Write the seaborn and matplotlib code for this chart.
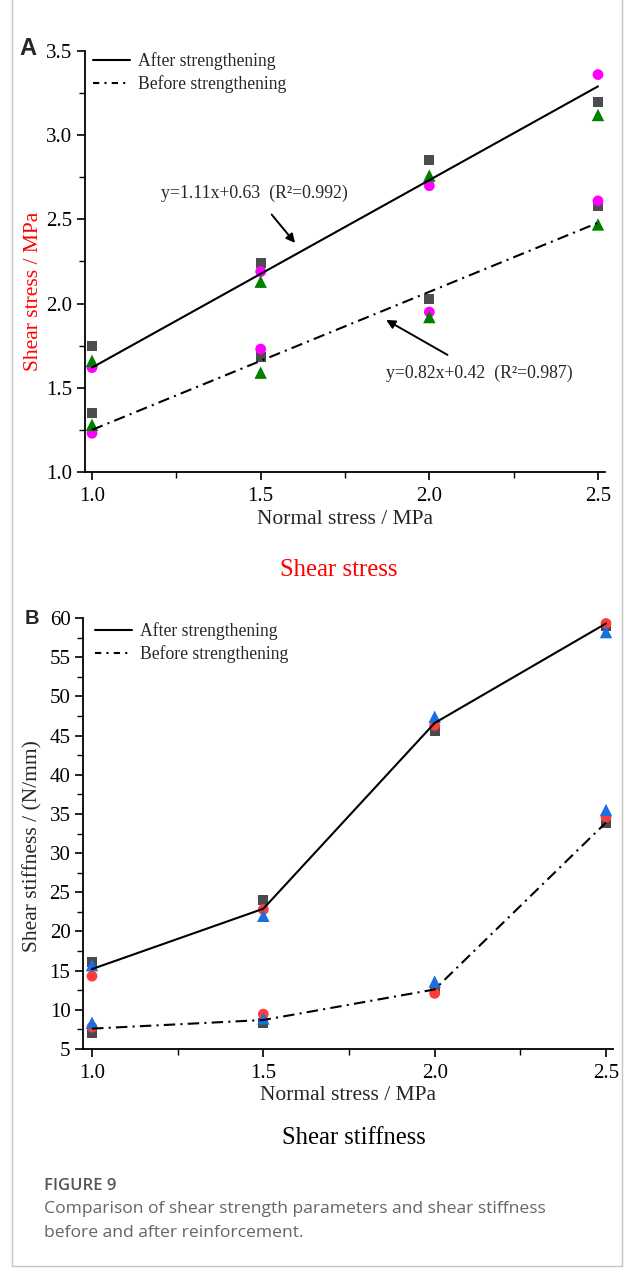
import matplotlib
matplotlib.use("Agg")
import matplotlib.pyplot as plt
import seaborn as sns
from matplotlib.lines import Line2D
from matplotlib.ticker import MultipleLocator, FormatStrFormatter

# ---------------- data ----------------
normal_stress = [1.0, 1.5, 2.0, 2.5]

# Panel A: shear stress (MPa)
a_after_square = [1.75, 2.24, 2.85, 3.20]
a_after_circle = [1.62, 2.19, 2.70, 3.36]
a_after_triangle = [1.66, 2.13, 2.76, 3.12]
a_before_square = [1.35, 1.68, 2.03, 2.58]
a_before_circle = [1.23, 1.73, 1.95, 2.61]
a_before_triangle = [1.28, 1.59, 1.92, 2.47]
fit_x = [1.0, 2.5]
a_after_fit = [1.62, 3.29]
a_before_fit = [1.25, 2.48]
eq_after = "y=1.11x+0.63  (R²=0.992)"
eq_before = "y=0.82x+0.42  (R²=0.987)"

# Panel B: shear stiffness (N/mm)
b_after_square = [16.1, 24.0, 45.6, 59.0]
b_after_circle = [14.3, 22.8, 46.3, 59.3]
b_after_triangle = [15.7, 22.0, 47.4, 58.2]
b_after_line = [15.2, 22.9, 46.6, 59.3]
b_before_square = [7.0, 8.3, 12.5, 33.8]
b_before_circle = [7.8, 9.45, 12.1, 34.6]
b_before_triangle = [8.35, 8.9, 13.6, 35.5]
b_before_line = [7.6, 8.7, 12.6, 33.9]

legend_labels = ["After strengthening", "Before strengthening"]

# ---------------- style ----------------
sns.set_theme(style="ticks")
plt.rcParams["font.family"] = ["Liberation Serif", "DejaVu Serif"]
plt.rcParams["axes.linewidth"] = 1.3
plt.rcParams["xtick.major.width"] = 1.2
plt.rcParams["ytick.major.width"] = 1.2
plt.rcParams["xtick.minor.width"] = 1.0
plt.rcParams["ytick.minor.width"] = 1.0

W, H = 626, 1272
fig = plt.figure(figsize=(W / 100, H / 100), dpi=100)

def fig_box(l, t, r, b):
    return [l / W, 1 - b / H, (r - l) / W, (b - t) / H]

DASHDOT = (0, (5.5, 2.5, 1.0, 2.5))
LW = 1.5

axA = fig.add_axes(fig_box(85, 51, 605, 472))
axB = fig.add_axes(fig_box(83, 618, 613, 1049))

def draw_points(ax, sq, ci, tr, c_sq, c_ci, c_tr):
    sns.scatterplot(x=normal_stress, y=sq, ax=ax, marker="s", s=52, color=c_sq,
                    edgecolor="none", linewidth=0, zorder=3, legend=False)
    sns.scatterplot(x=normal_stress, y=ci, ax=ax, marker="o", s=60, color=c_ci,
                    edgecolor="none", linewidth=0, zorder=3, legend=False)
    sns.scatterplot(x=normal_stress, y=tr, ax=ax, marker="^", s=80, color=c_tr,
                    edgecolor="none", linewidth=0, zorder=3, legend=False)

# ---------------- Panel A ----------------
draw_points(axA, a_after_square, a_after_circle, a_after_triangle, "#4d4d4d", "#ff00ff", "#008000")
draw_points(axA, a_before_square, a_before_circle, a_before_triangle, "#4d4d4d", "#ff00ff", "#008000")
sns.lineplot(x=fit_x, y=a_after_fit, ax=axA, color="black", lw=LW, zorder=4)
sns.lineplot(x=fit_x, y=a_before_fit, ax=axA, color="black", lw=LW, zorder=4,
             linestyle=DASHDOT)

axA.set_xlim(1 - 7 / 337, 2.5 + 7 / 337)
axA.set_ylim(1.0, 3.5)
axA.xaxis.set_major_locator(MultipleLocator(0.5))
axA.xaxis.set_minor_locator(MultipleLocator(0.25))
axA.yaxis.set_major_locator(MultipleLocator(0.5))
axA.yaxis.set_minor_locator(MultipleLocator(0.25))
axA.xaxis.set_major_formatter(FormatStrFormatter("%.1f"))
axA.yaxis.set_major_formatter(FormatStrFormatter("%.1f"))

axA.annotate(eq_after, xy=(1.602, 2.36), xytext=(1.48, 2.657), fontsize=12.8,
             ha="center", va="center", zorder=5,
             arrowprops=dict(arrowstyle="-|>", color="black", lw=1.4,
                             mutation_scale=13, shrinkA=9, shrinkB=0))
axA.annotate(eq_before, xy=(1.872, 1.903), xytext=(2.148, 1.588), fontsize=12.8,
             ha="center", va="center", zorder=5,
             arrowprops=dict(arrowstyle="-|>", color="black", lw=1.4,
                             mutation_scale=13, shrinkA=9, shrinkB=0))

# ---------------- Panel B ----------------
draw_points(axB, b_after_square, b_after_circle, b_after_triangle, "#4a4a4a", "#ff3c3c", "#1a6ee0")
draw_points(axB, b_before_square, b_before_circle, b_before_triangle, "#4a4a4a", "#ff3c3c", "#1a6ee0")
sns.lineplot(x=normal_stress, y=b_after_line, ax=axB, color="black", lw=LW, zorder=4)
sns.lineplot(x=normal_stress, y=b_before_line, ax=axB, color="black", lw=LW, zorder=4,
             linestyle=DASHDOT)

axB.set_xlim(1 - 9 / 342.7, 2.5 + 7 / 342.7)
axB.set_ylim(5, 60)
axB.xaxis.set_major_locator(MultipleLocator(0.5))
axB.xaxis.set_minor_locator(MultipleLocator(0.25))
axB.yaxis.set_major_locator(MultipleLocator(5))
axB.yaxis.set_minor_locator(MultipleLocator(2.5))
axB.xaxis.set_major_formatter(FormatStrFormatter("%.1f"))

# ---------------- common axes styling ----------------
for ax in (axA, axB):
    sns.despine(ax=ax)
    ax.spines["left"].set_color("black")
    ax.spines["bottom"].set_color("black")
    ax.tick_params(which="major", direction="out", length=6, colors="black",
                   labelsize=15)
    ax.tick_params(axis="y", which="major", pad=3)
    ax.tick_params(axis="x", which="major", pad=5)
    ax.tick_params(which="minor", direction="out", length=4, colors="black")
    ax.grid(False)
    ax.set_facecolor("white")
    handles = [Line2D([], [], color="black", lw=LW, ls="-"),
               Line2D([], [], color="black", lw=LW, ls=(0, (3.0, 2.5, 1.0, 2.5)))]
    ax.legend(handles, legend_labels, frameon=False, fontsize=12.7,
              loc="upper left", borderpad=0, borderaxespad=0,
              handlelength=2.1, handletextpad=0.45, labelspacing=0.28,
              bbox_transform=fig.transFigure,
              bbox_to_anchor=((93 if ax is axA else 95) / W,
                              1 - (52 if ax is axA else 622) / H))

axA.set_xlabel("Normal stress / MPa", fontsize=15.5)
axA.set_ylabel("Shear stress / MPa", fontsize=15.5, color="red")
axB.set_xlabel("Normal stress / MPa", fontsize=15.5)
axB.set_ylabel("Shear stiffness / (N/mm)", fontsize=15.5)
for ax, xl_y, yl_x, yl_y, (l, t, r, b) in (
        (axA, 520, 34, 291, (85, 51, 605, 472)),
        (axB, 1095, 33, 846, (83, 618, 613, 1049))):
    ax.xaxis.label.set_va("center")
    ax.xaxis.set_label_coords(0.5, (b - xl_y) / (b - t))
    ax.yaxis.label.set_va("center")
    ax.yaxis.set_label_coords((yl_x - l) / (r - l), (b - yl_y) / (b - t))

# panel titles and letters
fig.text(339 / W, 1 - 570 / H, "Shear stress", color="red", fontsize=17.8,
         ha="center", va="center")
fig.text(354 / W, 1 - 1138 / H, "Shear stiffness", color="black", fontsize=17.7,
         ha="center", va="center")
fig.text(19 / W, 1 - 48.5 / H, "A", fontsize=17, fontweight="bold",
         family=["Liberation Sans", "DejaVu Sans"], ha="left", va="center")
fig.text(25 / W, 1 - 618 / H, "B", fontsize=14.5, fontweight="bold",
         family=["Liberation Sans", "DejaVu Sans"], ha="left", va="center")

# caption
cap_font = ["Open Sans", "DejaVu Sans"]
fig.text(44 / W, 1 - 1186 / H, "FIGURE 9", fontsize=12, fontweight="semibold",
         color="#555555", family=cap_font, ha="left", va="center")
fig.text(44 / W, 1 - 1209 / H, "Comparison of shear strength parameters and shear stiffness",
         fontsize=12.6, color="#666666", family=cap_font, ha="left", va="center")
fig.text(44 / W, 1 - 1233 / H, "before and after reinforcement.",
         fontsize=12.6, color="#666666", family=cap_font, ha="left", va="center")

# outer frame
frame_c = "#c4c4c4"
fig.add_artist(Line2D([12 / W, 12 / W], [1 - 1266 / H, 1.0], transform=fig.transFigure,
                      color=frame_c, lw=1.0))
fig.add_artist(Line2D([622 / W, 622 / W], [1 - 1266 / H, 1.0], transform=fig.transFigure,
                      color=frame_c, lw=1.0))
fig.add_artist(Line2D([12 / W, 622 / W], [1 - 1266 / H, 1 - 1266 / H],
                      transform=fig.transFigure, color=frame_c, lw=1.0))

fig.savefig("out.png", dpi=100, facecolor="white")
